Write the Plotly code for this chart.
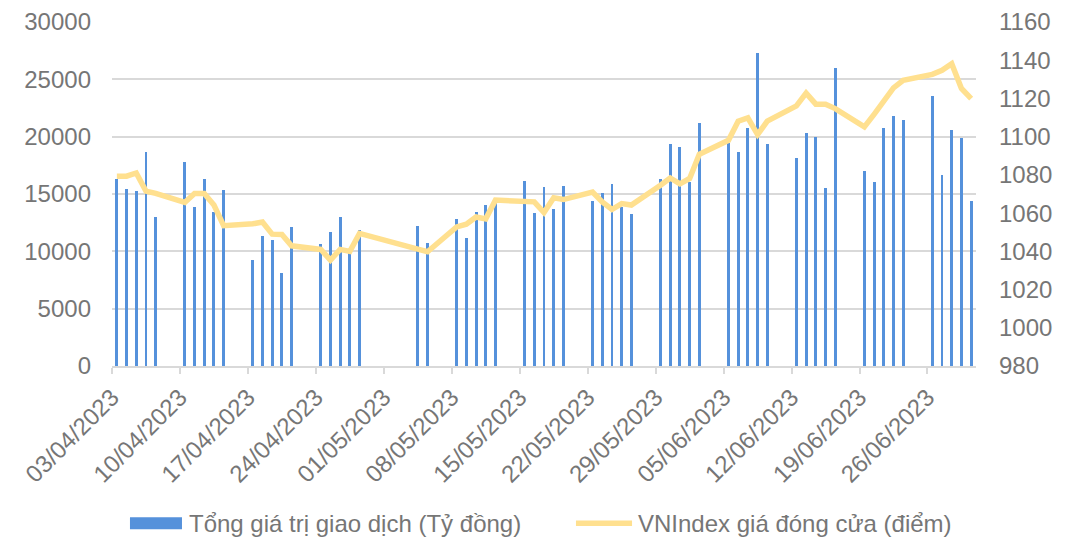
import plotly.graph_objects as go
import pandas as pd

# ---- data ----
dates = [
    "2023-04-03", "2023-04-04", "2023-04-05", "2023-04-06", "2023-04-07",
    "2023-04-10", "2023-04-11", "2023-04-12", "2023-04-13", "2023-04-14",
    "2023-04-17", "2023-04-18", "2023-04-19", "2023-04-20", "2023-04-21",
    "2023-04-24", "2023-04-25", "2023-04-26", "2023-04-27", "2023-04-28",
    "2023-05-04", "2023-05-05",
    "2023-05-08", "2023-05-09", "2023-05-10", "2023-05-11", "2023-05-12",
    "2023-05-15", "2023-05-16", "2023-05-17", "2023-05-18", "2023-05-19",
    "2023-05-22", "2023-05-23", "2023-05-24", "2023-05-25", "2023-05-26",
    "2023-05-29", "2023-05-30", "2023-05-31", "2023-06-01", "2023-06-02",
    "2023-06-05", "2023-06-06", "2023-06-07", "2023-06-08", "2023-06-09",
    "2023-06-12", "2023-06-13", "2023-06-14", "2023-06-15", "2023-06-16",
    "2023-06-19", "2023-06-20", "2023-06-21", "2023-06-22", "2023-06-23",
    "2023-06-26", "2023-06-27", "2023-06-28", "2023-06-29", "2023-06-30",
]

trading_value = [
    16270, 15480, 15280, 18650, 13010,
    17800, 13880, 16350, 13420, 15390,
    9210, 11360, 11010, 8100, 12110,
    10630, 11680, 12980, 9900, 11820,
    12200, 10720,
    12780, 11150, 13390, 14030, 14300,
    16120, 13300, 15570, 13680, 15680,
    14380, 15130, 15860, 13880, 13240,
    16270, 19370, 19060, 16090, 21200,
    19460, 18670, 20740, 27300, 19370,
    18100, 20280, 20010, 15540, 26030,
    16990, 16090, 20760, 21780, 21430,
    23530, 16670, 20560, 19870, 14400,
]

vnindex = [
    1079.3, 1079.3, 1081.0, 1071.5, 1070.3,
    1065.6, 1070.3, 1070.3, 1064.2, 1053.4,
    1054.4, 1055.3, 1049.0, 1048.8, 1042.9,
    1041.0, 1035.4, 1041.0, 1040.0, 1049.4,
    1041.2, 1039.8,
    1052.8, 1054.2, 1058.0, 1057.0, 1066.8,
    1065.9, 1065.9, 1060.3, 1068.0, 1067.1,
    1071.0, 1065.9, 1061.9, 1065.0, 1064.2,
    1074.6, 1078.4, 1075.3, 1078.1, 1090.8,
    1098.1, 1108.1, 1109.8, 1101.1, 1108.1,
    1116.1, 1122.8, 1117.0, 1117.0, 1114.7,
    1105.1, 1111.7, 1119.0, 1125.5, 1129.5,
    1132.6, 1134.7, 1138.2, 1125.2, 1119.9,
]

bar_name = "Tổng giá trị giao dịch (Tỷ đồng)"
line_name = "VNIndex giá đóng cửa (điểm)"

left_ticks = [0, 5000, 10000, 15000, 20000, 25000, 30000]
left_labels = ["0", "5000", "10000", "15000", "20000", "25000", "30000"]
right_ticks = [980, 1000, 1020, 1040, 1060, 1080, 1100, 1120, 1140, 1160]

DAY = 86400000
x = pd.to_datetime(dates)

FONT = "Liberation Sans, Arial, sans-serif"
GREY = "#767676"
GRID = "#D9D9D9"
BAR_COLOR = "#5591DB"
LINE_COLOR = "#FFE08F"
FS = 24

fig = go.Figure()
fig.add_trace(go.Bar(
    x=x, y=trading_value, name=bar_name,
    xperiod=DAY, xperiodalignment="middle",
    width=0.3 * DAY,
    marker=dict(color=BAR_COLOR, line=dict(width=0)),
    yaxis="y", showlegend=False,
))
fig.add_trace(go.Scatter(
    x=x, y=vnindex, name=line_name, mode="lines",
    xperiod=DAY, xperiodalignment="middle",
    line=dict(color=LINE_COLOR, width=5.5),
    yaxis="y2", showlegend=False,
))

# custom legend (below the plot, paper coordinates)
fig.add_shape(type="rect", xref="paper", yref="paper",
              x0=0.0208, x1=0.0810, y0=-0.4747, y1=-0.4398,
              fillcolor=BAR_COLOR, line=dict(width=0))
fig.add_annotation(xref="paper", yref="paper", x=0.0868, y=-0.4564,
                   xanchor="left", yanchor="middle", showarrow=False,
                   text=bar_name, font=dict(size=FS, color=GREY))
fig.add_shape(type="line", xref="paper", yref="paper",
              x0=0.537, x1=0.6019, y0=-0.4573, y1=-0.4573,
              line=dict(color=LINE_COLOR, width=5.5))
fig.add_annotation(xref="paper", yref="paper", x=0.6065, y=-0.4564,
                   xanchor="left", yanchor="middle", showarrow=False,
                   text=line_name, font=dict(size=FS, color=GREY))

fig.update_layout(
    width=1074, height=539,
    margin=dict(l=104, r=106, t=14, b=181),
    paper_bgcolor="white", plot_bgcolor="white",
    font=dict(family=FONT, size=FS, color=GREY),
    showlegend=False,
    bargap=0,
    xaxis=dict(
        type="date",
        range=["2023-04-03", "2023-07-01"],
        tick0="2023-04-03", dtick=7 * DAY,
        tickformat="%d/%m/%Y", tickangle=-45,
        showgrid=False, showline=True, linecolor=GRID, linewidth=1.5,
        ticks="outside", ticklen=6, tickcolor=GRID, tickwidth=1.5,
        tickfont=dict(size=FS, color=GREY),
        automargin=False, zeroline=False,
    ),
    yaxis=dict(
        range=[0, 30000], tickvals=left_ticks, ticktext=left_labels,
        showgrid=True, gridcolor=GRID, gridwidth=1.5,
        zeroline=False, showline=False,
        tickfont=dict(size=FS, color=GREY),
        ticklabelstandoff=20, automargin=False,
    ),
    yaxis2=dict(
        range=[980, 1160], tickvals=right_ticks,
        overlaying="y", side="right",
        showgrid=False, zeroline=False, showline=False,
        tickfont=dict(size=FS, color=GREY),
        ticklabelstandoff=22, automargin=False,
    ),
)

fig.write_html("out.html")
